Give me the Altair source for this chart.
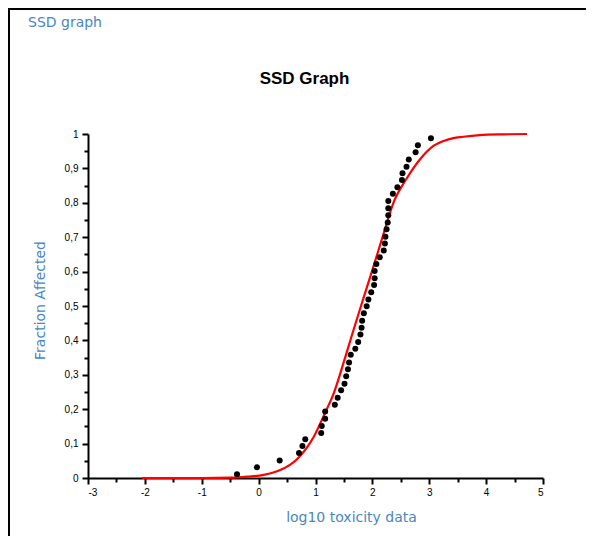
import altair as alt
import pandas as pd

# observed data points (log10 toxicity, fraction affected)
pts_x = [-0.38, -0.03, 0.37, 0.71, 0.77, 0.82, 1.10, 1.11, 1.17, 1.17,
         1.34, 1.39, 1.45, 1.51, 1.54, 1.57, 1.59, 1.62, 1.70, 1.75,
         1.79, 1.81, 1.82, 1.85, 1.90, 1.93, 1.98, 2.03, 2.04, 2.04,
         2.07, 2.13, 2.20, 2.22, 2.23, 2.25, 2.27, 2.28, 2.28, 2.28,
         2.36, 2.44, 2.52, 2.53, 2.60, 2.64, 2.76, 2.80, 3.03]
pts_y = [0.011, 0.031, 0.051, 0.073, 0.093, 0.113, 0.131, 0.151, 0.172, 0.193,
         0.213, 0.233, 0.255, 0.274, 0.296, 0.316, 0.336, 0.358, 0.376, 0.395,
         0.417, 0.437, 0.457, 0.479, 0.499, 0.519, 0.540, 0.561, 0.581, 0.602,
         0.622, 0.642, 0.661, 0.682, 0.701, 0.723, 0.743, 0.764, 0.784, 0.805,
         0.826, 0.845, 0.866, 0.886, 0.905, 0.926, 0.947, 0.967, 0.988]

# fitted curve
curve_x = [-2.05, -1.5, -1.0, -0.5, -0.2, 0.09, 0.38, 0.67, 0.97, 1.17,
           1.32, 1.49, 1.64, 1.79, 2.02, 2.20, 2.37, 2.60, 2.85, 3.08,
           3.31, 3.60, 3.89, 4.30, 4.72]
curve_y = [0.0, 0.0, 0.0, 0.001, 0.004, 0.009, 0.023, 0.054, 0.12, 0.19,
           0.246, 0.333, 0.415, 0.495, 0.615, 0.712, 0.80, 0.87, 0.929, 0.966,
           0.983, 0.992, 0.997, 0.999, 1.0]

x_ticks = [-3, -2, -1, 0, 1, 2, 3, 4, 5]
x_minor = [-2.5, -1.5, -0.5, 0.5, 1.5, 2.5, 3.5, 4.5]
y_ticks = [0, 0.1, 0.2, 0.3, 0.4, 0.5, 0.6, 0.7, 0.8, 0.9, 1]
y_minor = [0.05, 0.15, 0.25, 0.35, 0.45, 0.55, 0.65, 0.75, 0.85, 0.95]

header_text = ["SSD graph"]
title_text = ["SSD Graph"]
x_title = "log10 toxicity data"
y_title = "Fraction Affected"

BLUE = "#4a86c2"

df_pts = pd.DataFrame({"x": pts_x, "y": pts_y})
df_curve = pd.DataFrame({"x": curve_x, "y": curve_y})

xscale = alt.Scale(domain=[-3, 5], nice=False, zero=False)
yscale = alt.Scale(domain=[0, 1], nice=False, zero=False)

common = dict(tickColor="black", tickWidth=2, grid=False, labelColor="black",
              labelFont="Liberation Sans", labelFontSize=10)

x_major = alt.Axis(values=x_ticks, orient="bottom", tickSize=6, domainColor="black",
                   domainWidth=2, labelPadding=3, labelExpr="toString(datum.value)",
                   title=x_title, titleFont="DejaVu Sans", titleFontSize=14,
                   titleFontWeight="normal", titleColor=BLUE, titleX=263, titleY=43,
                   titleAlign="center", titleBaseline="alphabetic", **common)
y_major = alt.Axis(values=y_ticks, orient="left", tickSize=6, domainColor="black",
                   domainWidth=2, labelPadding=4,
                   labelExpr="replace(toString(datum.value), '.', ',')",
                   title=y_title, titleFont="DejaVu Sans", titleFontSize=14,
                   titleFontWeight="normal", titleColor=BLUE, titleAngle=270,
                   titleX=-44, titleY=166, titleAlign="center",
                   titleBaseline="alphabetic", **common)
x_min_ax = alt.Axis(values=x_minor, orient="bottom", tickSize=4, labels=False,
                    domain=False, title=None, **common)
y_min_ax = alt.Axis(values=y_minor, orient="left", tickSize=4, labels=False,
                    domain=False, title=None, **common)

curve = alt.Chart(df_curve).mark_line(color="#ff0000", strokeWidth=2.2,
                                      interpolate="monotone").encode(
    x=alt.X("x:Q", scale=xscale, axis=x_min_ax),
    y=alt.Y("y:Q", scale=yscale, axis=y_min_ax),
)
points = alt.Chart(df_pts).mark_circle(size=36, color="black", opacity=1).encode(
    x=alt.X("x:Q", scale=xscale, axis=x_major),
    y=alt.Y("y:Q", scale=yscale, axis=y_major),
)

header = alt.Chart(pd.DataFrame({"t": header_text})).mark_text(
    align="left", baseline="alphabetic", font="DejaVu Sans", fontSize=14, color=BLUE
).encode(text="t:N", x=alt.value(-60), y=alt.value(-107))

title = alt.Chart(pd.DataFrame({"t": title_text})).mark_text(
    align="center", baseline="alphabetic", font="Liberation Sans", fontSize=17,
    fontWeight="bold", color="black"
).encode(text="t:N", x=alt.value(216.5), y=alt.value(-50.5))

one = pd.DataFrame({"k": [0]})
left_line = alt.Chart(one).mark_rule(color="black", strokeWidth=2).encode(
    x=alt.value(-79), y=alt.value(-126), y2=alt.value(402))
top_line = alt.Chart(one).mark_rule(color="black", strokeWidth=2).encode(
    y=alt.value(-125), x=alt.value(-80), x2=alt.value(498))

chart = alt.layer(curve, points, header, title, left_line, top_line).resolve_axis(
    x="independent", y="independent"
).properties(
    width=455, height=344,
    autosize=alt.AutoSizeParams(type="none"),
    padding={"left": 80, "top": 126, "right": 43, "bottom": 58},
).configure_view(stroke=None)

chart.save("out.html", embed_options={"renderer": "svg", "actions": False})
